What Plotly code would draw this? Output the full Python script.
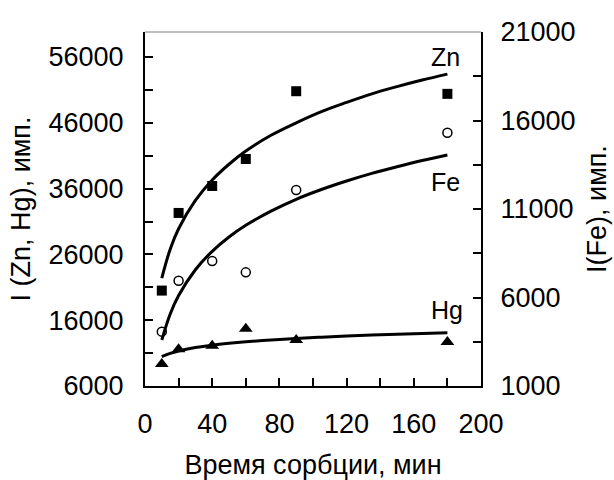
import plotly.graph_objects as go

# Measured points
time_pts = [10, 20, 40, 60, 90, 180]
zn_pts = [20500, 32300, 36400, 40500, 50800, 50400]
fe_pts = [4070, 6950, 8060, 7420, 12070, 15310]
hg_pts = [9350, 11600, 12100, 14700, 13000, 12700]

# Trend lines
time_fit = [10, 15, 20, 30, 40, 50, 60, 75, 90, 105, 120, 135, 150, 165, 180]
zn_fit = [22400, 26800, 29900, 34200, 37300, 39700, 41700, 44100, 46000, 47700,
          49100, 50400, 51500, 52500, 53400]
fe_fit = [3600, 5070, 6110, 7570, 8610, 9420, 10080, 10880, 11550, 12100,
          12580, 13010, 13390, 13740, 14050]
hg_fit = [10460, 10970, 11330, 11840, 12210, 12490, 12720, 13000, 13230, 13420,
          13590, 13740, 13870, 13990, 14100]

FONT = "Liberation Sans, Arial, sans-serif"
FS = 27

fig = go.Figure()

line_style = dict(color="black", width=3, shape="spline")
fig.add_trace(go.Scatter(x=time_fit, y=zn_fit, mode="lines", line=line_style, yaxis="y"))
fig.add_trace(go.Scatter(x=time_fit, y=hg_fit, mode="lines", line=line_style, yaxis="y"))
fig.add_trace(go.Scatter(x=time_fit, y=fe_fit, mode="lines", line=line_style, yaxis="y2"))

fig.add_trace(go.Scatter(x=time_pts, y=zn_pts, mode="markers", yaxis="y",
                         marker=dict(symbol="square", size=10, color="black")))
fig.add_trace(go.Scatter(x=time_pts, y=hg_pts, mode="markers", yaxis="y",
                         marker=dict(symbol="triangle-up", size=12, color="black")))
fig.add_trace(go.Scatter(x=time_pts, y=fe_pts, mode="markers", yaxis="y2",
                         marker=dict(symbol="circle-open", size=9, color="black",
                                     line=dict(color="black", width=1.5))))

ann_font = dict(family=FONT, size=25, color="black")
for txt, xv, yv in [("Zn", 178.6, 56040), ("Fe", 179, 37030), ("Hg", 180, 17560)]:
    fig.add_annotation(x=xv, y=yv, xref="x", yref="y", text=txt, showarrow=False,
                       font=ann_font, xanchor="center", yanchor="middle")

# top border
fig.add_shape(type="line", xref="paper", yref="paper", x0=0, x1=1, y0=1, y1=1,
              line=dict(color="#808080", width=1.2))

tick_font = dict(family=FONT, size=FS, color="black")
title_font = dict(family=FONT, size=FS, color="black")

fig.update_layout(
    width=614, height=480,
    margin=dict(l=145, r=133, t=32, b=94, autoexpand=False),
    paper_bgcolor="white", plot_bgcolor="white",
    showlegend=False,
    font=dict(family=FONT, size=FS, color="black"),
    xaxis=dict(
        range=[0, 200], tick0=0, dtick=40, ticks="inside", ticklen=8, tickwidth=1.5,
        tickcolor="black", showline=True, linecolor="black", linewidth=2,
        showgrid=False, zeroline=False, tickfont=tick_font, ticklabelstandoff=13,
        automargin=False,
        minor=dict(dtick=20, tick0=0, ticks="inside", ticklen=8, tickwidth=1.5,
                   tickcolor="black", showgrid=False),
        title=dict(text="Время сорбции, мин", font=title_font, standoff=23),
    ),
    yaxis=dict(
        range=[6000, 59800], tick0=6000, dtick=10000, tickformat="d",
        ticks="inside", ticklen=8,
        tickwidth=1.5, tickcolor="black", showline=True, linecolor="black",
        linewidth=2, showgrid=False, zeroline=False, tickfont=tick_font,
        ticklabelstandoff=14, automargin=False,
        minor=dict(dtick=5000, tick0=6000, ticks="inside", ticklen=8, tickwidth=1.5,
                   tickcolor="black", showgrid=False),
        title=dict(text="I (Zn, Hg), имп.", font=title_font, standoff=10),
    ),
    yaxis2=dict(
        range=[1000, 21000], tick0=1000, dtick=5000, tickformat="d",
        overlaying="y", side="right",
        ticks="inside", ticklen=8, tickwidth=1.5, tickcolor="black",
        showline=True, linecolor="black", linewidth=2, showgrid=False,
        zeroline=False, tickfont=tick_font, ticklabelstandoff=12, automargin=False,
        minor=dict(dtick=2500, tick0=1000, ticks="inside", ticklen=8, tickwidth=1.5,
                   tickcolor="black", showgrid=False),
        title=dict(text="I(Fe), имп.", font=title_font, standoff=13),
    ),
)

fig.write_html("out.html", config={"displayModeBar": False},
               post_script="document.body.style.margin='0px';")
